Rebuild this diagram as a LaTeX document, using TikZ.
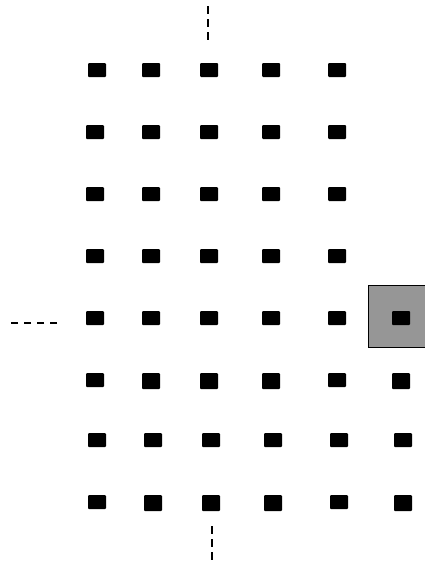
\documentclass[tikz,border=0pt]{standalone}
\definecolor{boxgray}{RGB}{150,150,150}
\begin{document}
\begin{tikzpicture}[x=1pt,y=-1pt,
  dot/.style={draw=none,fill=black,rounded corners=1pt,inner sep=0pt,minimum width=18pt,minimum height=14pt},
  dotb/.style={dot,minimum height=16pt},
  dashln/.style={line width=1.9pt,dash pattern=on 7.5pt off 5.5pt},
  grayframe/.style={draw=black,line width=1.4pt,fill=boxgray}]
\useasboundingbox (0,0) rectangle (425,565);
% gray frame
\path[grayframe] (368.5,285.5) rectangle (426,347.5);
% row 1
\node[dot] (r1c1) at (97,70) {};
\node[dot] (r1c2) at (151,70) {};
\node[dot] (r1c3) at (209,70) {};
\node[dot] (r1c4) at (271,70) {};
\node[dot] (r1c5) at (337,70) {};
% row 2
\node[dot] (r2c1) at (95,132) {};
\node[dot] (r2c2) at (151,132) {};
\node[dot] (r2c3) at (209,132) {};
\node[dot] (r2c4) at (271,132) {};
\node[dot] (r2c5) at (337,132) {};
% row 3
\node[dot] (r3c1) at (95,194) {};
\node[dot] (r3c2) at (151,194) {};
\node[dot] (r3c3) at (209,194) {};
\node[dot] (r3c4) at (271,194) {};
\node[dot] (r3c5) at (337,194) {};
% row 4
\node[dot] (r4c1) at (95,256) {};
\node[dot] (r4c2) at (151,256) {};
\node[dot] (r4c3) at (209,256) {};
\node[dot] (r4c4) at (271,256) {};
\node[dot] (r4c5) at (337,256) {};
% row 5
\node[dot] (r5c1) at (95,318) {};
\node[dot] (r5c2) at (151,318) {};
\node[dot] (r5c3) at (209,318) {};
\node[dot] (r5c4) at (271,318) {};
\node[dot] (r5c5) at (337,318) {};
\node[dot] (r5c6) at (401,318) {};
% row 6
\node[dot] (r6c1) at (95,380) {};
\node[dotb] (r6c2) at (151,381) {};
\node[dotb] (r6c3) at (209,381) {};
\node[dotb] (r6c4) at (271,381) {};
\node[dot] (r6c5) at (337,380) {};
\node[dotb] (r6c6) at (401,381) {};
% row 7
\node[dot] (r7c1) at (97,440) {};
\node[dot] (r7c2) at (153,440) {};
\node[dot] (r7c3) at (211,440) {};
\node[dot] (r7c4) at (273,440) {};
\node[dot] (r7c5) at (339,440) {};
\node[dot] (r7c6) at (403,440) {};
% row 8
\node[dot] (r8c1) at (97,502) {};
\node[dotb] (r8c2) at (153,503) {};
\node[dotb] (r8c3) at (211,503) {};
\node[dotb] (r8c4) at (273,503) {};
\node[dot] (r8c5) at (339,502) {};
\node[dotb] (r8c6) at (403,503) {};
% dashed stubs
\coordinate (topA) at (208,6);
\coordinate (topB) at (208,43);
\coordinate (leftA) at (57,323);
\coordinate (leftB) at (10,323);
\coordinate (botA) at (212,526);
\coordinate (botB) at (212,563);
\draw[dashln] (topA) -- (topB);
\draw[dashln] (leftA) -- (leftB);
\draw[dashln] (botA) -- (botB);
\end{tikzpicture}
\end{document}
